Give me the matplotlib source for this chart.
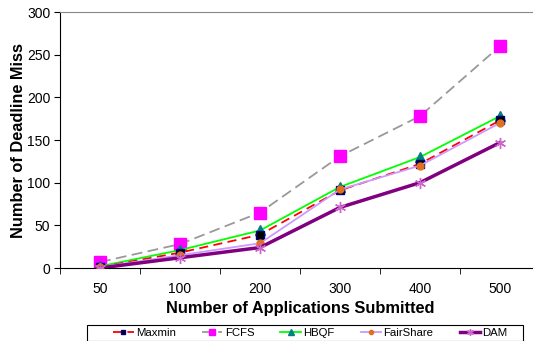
import numpy as np
import matplotlib
matplotlib.use("Agg")
import matplotlib.pyplot as plt
from matplotlib.patches import Rectangle

plt.rcParams['font.family'] = ['Liberation Sans', 'DejaVu Sans']

# valeurs
apps = ['50', '100', '200', '300', '400', '500']
maxmin = [1, 18, 39, 91, 122, 173]
fcfs = [7, 28, 65, 131, 178, 260]
hbqf = [2, 21, 44, 95, 130, 178]
fairshare = [1, 15, 29, 92, 120, 170]
dam = [0, 12, 24, 71, 100, 147]

x = np.arange(len(apps))

fig = plt.figure(figsize=(5.33, 3.41), dpi=100)
ax = fig.add_axes([60/533, 1 - 268/341, 480/533, 256/341])

ax.plot(x, fcfs, color='#999999', linestyle=(0, (6, 3)), lw=1.3,
        marker='s', ms=8, mfc='#ff00ff', mec='#ff00ff', label='FCFS', zorder=2)
ax.plot(x, hbqf, color='#00ff00', lw=1.3, marker='^', ms=7,
        mfc='#008080', mec='#008080', label='HBQF', zorder=3)
ax.plot(x, maxmin, color='#ff0000', linestyle=(0, (5, 3)), lw=1.3,
        marker='s', ms=6, mfc='#000000', mec='#000080', label='Maxmin', zorder=4)
ax.plot(x, fairshare, color='#cc99ff', lw=1.3, marker='o', ms=5,
        mfc='#e07020', mec='#e07020', label='FairShare', zorder=5)
ax.plot(x, dam, color='#800080', lw=2.5, marker=(6, 2, 0), ms=8,
        mec='#cc66cc', mew=1, label='DAM', zorder=6)

ax.set_xlim(-0.5, 5.5)
ax.set_ylim(0, 300)
ax.set_yticks(range(0, 301, 50))
ax.set_xticks(x)
ax.set_xticklabels(apps)
ax.set_xticks(np.arange(-0.5, 6, 1), minor=True)
ax.tick_params(axis='x', which='major', length=0, labelsize=10, pad=10)
ax.tick_params(axis='x', which='minor', length=4, direction='out')
ax.tick_params(axis='y', labelsize=10, length=4, direction='out', pad=3)

ax.spines['top'].set_color('#888888')
ax.spines['right'].set_visible(False)

ax.set_xlabel('Number of Applications Submitted', fontsize=11.8, fontweight='bold')
ax.set_ylabel('Number of Deadline Miss', fontsize=11.8, fontweight='bold')
ax.xaxis.set_label_coords(0.5, -0.13)
ax.yaxis.set_label_coords(-0.07, 0.5)

# légende sans cadre + rectangle dessiné à part
handles, labels = ax.get_legend_handles_labels()
order = ['Maxmin', 'FCFS', 'HBQF', 'FairShare', 'DAM']
hmap = dict(zip(labels, handles))
leg = fig.legend([hmap[k] for k in order], order, loc='center left',
                 bbox_to_anchor=(113/533, 1 - 332.5/341), ncol=5, fontsize=8.2,
                 frameon=False, markerscale=0.6,
                 handlelength=1.8, handletextpad=0.2, columnspacing=2.3,
                 borderpad=0, borderaxespad=0)
fig.patches.append(Rectangle((87/533, 0), (523 - 87)/533, 1 - 325/341,
                             transform=fig.transFigure, fill=False,
                             edgecolor='black', lw=0.8))

fig.savefig('out.png', dpi=100)
